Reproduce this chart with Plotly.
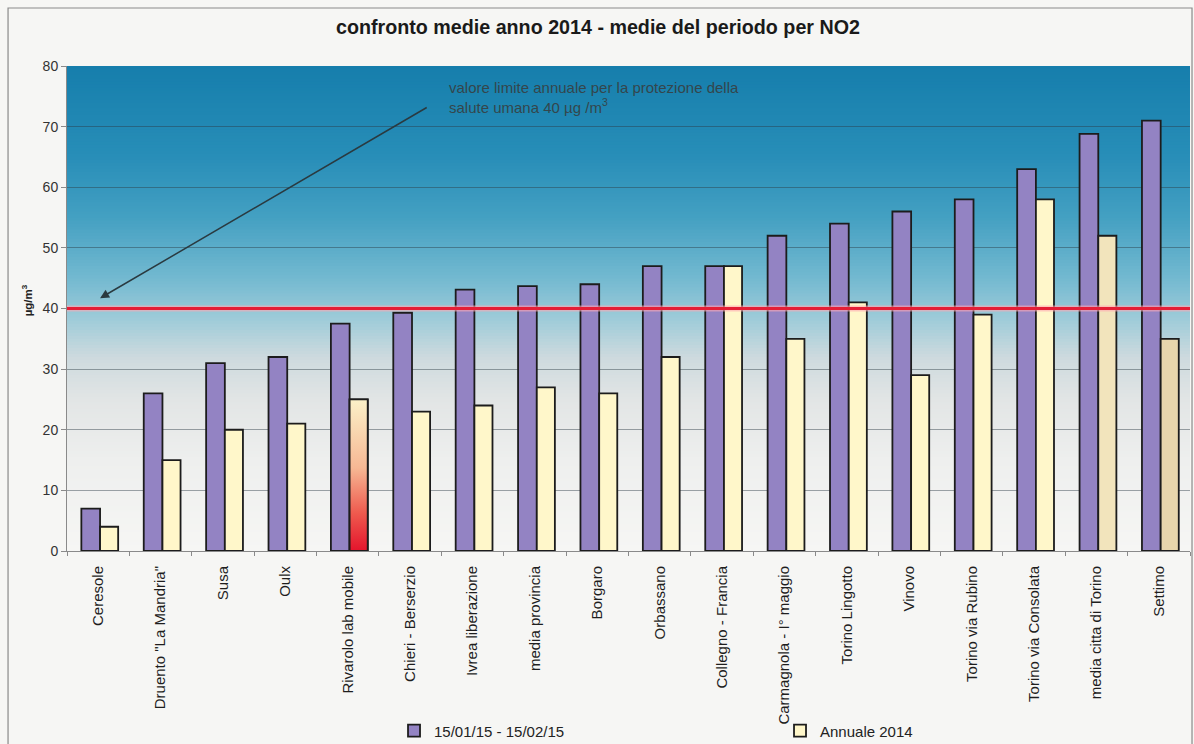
import numpy as np
import plotly.graph_objects as go

# Stations / averages (µg/m³)
stations = [
    "Ceresole", "Druento \"La Mandria\"", "Susa", "Oulx", "Rivarolo lab mobile",
    "Chieri - Berserzio", "Ivrea liberazione", "media provincia", "Borgaro",
    "Orbassano", "Collegno - Francia", "Carmagnola - I° maggio", "Torino Lingotto",
    "Vinovo", "Torino via Rubino", "Torino via Consolata", "media citta di Torino",
    "Settimo",
]
periodo_2015 = [7, 26, 31, 32, 37.5, 39.3, 43.1, 43.7, 44, 47, 47, 52, 54, 56, 58, 63, 68.8, 71]
annuale_2014 = [4, 15, 20, 21, 25, 23, 24, 27, 26, 32, 47, 35, 41, 29, 39, 58, 52, 35]
series_names = ["15/01/15 - 15/02/15", "Annuale 2014"]
limite_annuale = 40
y_ticks = [0, 10, 20, 30, 40, 50, 60, 70, 80]

x = np.arange(len(stations))

PURPLE = "#9383C3"
CREAM = "#FFF7CA"
OUTLINE = "#1c1c1c"
annual_colors = [CREAM] * len(stations)
annual_colors[stations.index("media citta di Torino")] = "#F2E4BC"
annual_colors[stations.index("Settimo")] = "#E8D6AC"

# bar geometry within each category slot
W1, OFF1 = 0.30, -0.27
W2, OFF2 = 0.29, 0.03

fig = go.Figure()
fig.add_trace(go.Bar(
    x=x, y=periodo_2015, name=series_names[0], width=W1, offset=OFF1,
    marker=dict(color=PURPLE, line=dict(color=OUTLINE, width=1.8)),
))
fig.add_trace(go.Bar(
    x=x, y=annuale_2014, name=series_names[1], width=W2, offset=OFF2,
    marker=dict(color=annual_colors, line=dict(color=OUTLINE, width=1.8)),
))

# Rivarolo annual bar filled with a red-to-cream vertical gradient
ri = stations.index("Rivarolo lab mobile")
rv = annuale_2014[ri]
gx0, gx1 = ri + OFF2, ri + OFF2 + W2
fig.add_trace(go.Scatter(
    x=[gx0, gx1, gx1, gx0, gx0], y=[0, 0, rv, rv, 0],
    mode="lines", fill="toself", showlegend=False, hoverinfo="skip",
    line=dict(color=OUTLINE, width=1.8),
    fillgradient=dict(type="vertical", start=0, stop=rv,
                      colorscale=[[0, "#E4142C"], [0.25, "#EE5A4E"],
                                  [0.55, "#F6B894"], [1, "#FBF1C8"]]),
))

# plot-area background: teal at the top fading to light grey
stops_v = [0, 15, 25, 32, 38, 45, 55, 65, 80]
stops_c = np.array([
    (246, 246, 244), (238, 239, 238), (226, 229, 229), (205, 218, 222),
    (160, 204, 217), (115, 185, 208), (68, 160, 194), (40, 142, 184),
    (22, 126, 172)], dtype=float)
shapes = []
step = 0.5
for lo in np.arange(0, 80, step):
    mid = lo + step / 2
    rgb = [int(round(np.interp(mid, stops_v, stops_c[:, k]))) for k in range(3)]
    # each strip overlaps the next one so no seams appear between them
    shapes.append(dict(type="rect", xref="paper", yref="y", x0=0, x1=1,
                       y0=lo, y1=min(lo + 3 * step, 80), layer="below",
                       line=dict(width=0), fillcolor=f"rgb({rgb[0]},{rgb[1]},{rgb[2]})"))

# limit line
shapes.append(dict(type="line", xref="paper", yref="y", x0=0, x1=1,
                   y0=limite_annuale, y1=limite_annuale,
                   line=dict(color="rgba(255,170,180,0.6)", width=6), layer="above"))
shapes.append(dict(type="line", xref="paper", yref="y", x0=0, x1=1,
                   y0=limite_annuale, y1=limite_annuale,
                   line=dict(color="#E41E36", width=3), layer="above"))

# outer frame
shapes.append(dict(type="rect", xref="paper", yref="paper",
                   x0=-0.0525, x1=1.0018, y0=-0.55, y1=1.1196,
                   line=dict(color="#8a8a8a", width=1.2)))

annotations = [
    dict(x=0.03, y=41.7, ax=5.29, ay=73.3, xref="x", yref="y", axref="x", ayref="y",
         showarrow=True, arrowhead=2, arrowsize=1.2, arrowwidth=1.5,
         arrowcolor="#2a3a40", text=""),
    dict(x=5.59, y=74.8, xref="x", yref="y", xanchor="left", yanchor="middle",
         align="left", showarrow=False,
         text="valore limite annuale per la protezione della<br>salute umana 40 µg /m<sup>3</sup>",
         font=dict(family="Liberation Sans, Arial", size=15, color="#34464c")),
    dict(x=-0.0436, y=0.517, xref="paper", yref="paper", textangle=-90,
         showarrow=False, text="<b>µg/m<sup>3</sup></b>",
         font=dict(family="Liberation Sans, Arial", size=11.5, color="#222")),
]

fig.update_layout(
    width=1194, height=744,
    margin=dict(l=67, r=4, t=66, b=193, autoexpand=False),
    paper_bgcolor="#F6F6F4", plot_bgcolor="#F6F6F4",
    barmode="overlay",
    title=dict(text="<b>confronto medie anno 2014 - medie del periodo per NO2</b>",
               x=0.5008, xanchor="center", y=0.9637, yanchor="middle", yref="container",
               font=dict(family="Liberation Sans, Arial", size=19.7, color="#1a1a1a")),
    font=dict(family="Liberation Sans, Arial", color="#222"),
    shapes=shapes, annotations=annotations,
    legend=dict(orientation="h", x=0.2912, xanchor="left", y=-0.371, yanchor="middle",
                entrywidth=341, entrywidthmode="pixels",
                font=dict(size=15, color="#222"), bgcolor="rgba(0,0,0,0)",
                itemwidth=30, traceorder="normal"),
    showlegend=True,
)
fig.update_xaxes(
    range=[-0.5, len(stations) - 0.5], tickmode="array", tickvals=x, ticktext=stations,
    tickangle=-90, ticks="", showgrid=False, zeroline=False, automargin=False,
    ticklabelstandoff=8,
    showline=True, linecolor="#8a8a8a", linewidth=1,
    tickfont=dict(family="Liberation Sans, Arial", size=15, color="#1e1e1e"),
    minor=dict(tick0=-0.5, dtick=1, ticks="outside", ticklen=4, tickcolor="#8a8a8a",
               showgrid=False),
)
fig.update_yaxes(
    range=[0, 80], tickmode="array", tickvals=y_ticks, ticks="outside", ticklen=5,
    tickcolor="#8a8a8a", showgrid=True, gridcolor="rgba(45,60,68,0.45)", gridwidth=1,
    zeroline=False, showline=True, linecolor="#8a8a8a", linewidth=1, automargin=False,
    tickfont=dict(family="Liberation Sans, Arial", size=14, color="#333"),
)

fig.write_html("out.html")
